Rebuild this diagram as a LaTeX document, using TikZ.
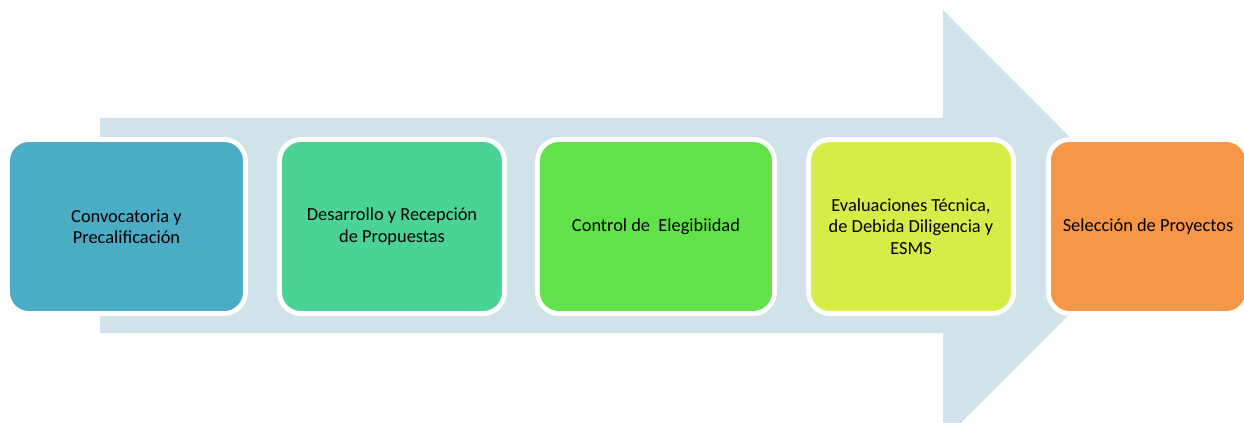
\documentclass[tikz,border=0pt]{standalone}
\usepackage{fontspec}
\setmainfont{Carlito}
\definecolor{arrowfill}{HTML}{D1E3EA}
\definecolor{c1}{HTML}{4BACC6}
\definecolor{c2}{HTML}{4BD396}
\definecolor{c3}{HTML}{62E24A}
\definecolor{c4}{HTML}{D6EC47}
\definecolor{c5}{HTML}{F79646}
\tikzset{
  stage/.style={draw=white, line width=3.6pt, rounded corners=16pt, align=center,
    inner sep=0pt, outer sep=0pt, minimum height=130.5pt,
    font=\fontsize{13.8pt}{16pt}\selectfont, text=black}
}
\begin{document}
\begin{tikzpicture}[x=0.75pt,y=-0.75pt]
\useasboundingbox (0,0) rectangle (1244,422);
\clip (0,0) rectangle (1244,422);
\fill[arrowfill] (100,118) -- (943,118) -- (943,10) -- (1158,225.5) -- (943,441) -- (943,333) -- (100,333) -- cycle;
\node[stage, fill=c1, minimum width=178.5pt] (b1) at (126.5,226.5) {Convocatoria y\\Precalificación};
\node[stage, fill=c2, minimum width=168.75pt] (b2) at (392,226.5) {Desarrollo y Recepción\\de Propuestas};
\node[stage, fill=c3, minimum width=177.75pt] (b3) at (656,226.5) {Control de\ \ Elegibiidad};
\node[stage, fill=c4, minimum width=153.75pt] (b4) at (911,226.5) {Evaluaciones Técnica,\\de Debida Diligencia y\\ESMS};
\node[stage, fill=c5, minimum width=149.5pt] (b5) at (1148,226.5) {Selección de Proyectos};
\end{tikzpicture}
\end{document}
